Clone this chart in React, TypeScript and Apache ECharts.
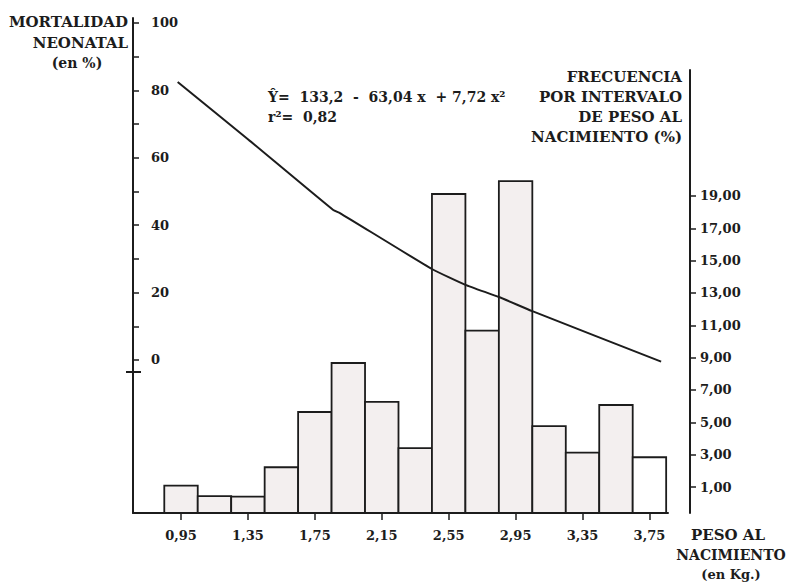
import React, { useEffect, useRef } from "react";
import * as echarts from "echarts";

// Birth-weight intervals (kg, bin centres) and frequency per interval (%)
const weightCenters = [0.95, 1.15, 1.35, 1.55, 1.75, 1.95, 2.15, 2.35, 2.55, 2.75, 2.95, 3.15, 3.35, 3.55, 3.75];
const frequencies = [1.08, 0.44, 0.41, 2.22, 5.64, 8.67, 6.26, 3.41, 19.12, 10.67, 19.92, 4.77, 3.12, 6.07, 2.84];
const binFilled = [true, true, true, true, true, true, true, true, true, true, true, true, true, true, false];
const binWidth = 0.2;

// Neonatal mortality curve (kg, %)
const curveWeight = [0.93, 1.35, 1.86, 1.9, 2.45, 2.65, 2.85, 3.05, 3.82];
const curveMortality = [82.5, 65.5, 44.5, 43.6, 27.0, 22.3, 18.7, 14.5, -0.5];

// Tick labels
const weightTicks = [0.95, 1.35, 1.75, 2.15, 2.55, 2.95, 3.35, 3.75];
const mortalityLabels = [0, 20, 40, 60, 80, 100];
const mortalityTicks = [0, 10, 20, 30, 40, 50, 60, 70, 80, 90, 100];
const frequencyTicks = [1, 3, 5, 7, 9, 11, 13, 15, 17, 19];

const FONT = '"DejaVu Serif", "Liberation Serif", serif';
const INK = "#1c1c1c";

function comma(v: number) {
  return v.toFixed(2).replace(".", ",");
}

export default function App() {
  const ref = useRef<HTMLDivElement>(null);

  useEffect(() => {
    if (!ref.current) return;
    const chart = echarts.init(ref.current, undefined, { renderer: "svg" });

    const txt = (text: string, x: number, y: number, align: string, size = 12, color = INK) => ({
      type: "text",
      x,
      y,
      style: {
        text,
        font: `bold ${size}px ${FONT}`,
        fill: color,
        textAlign: align,
        align,
        textVerticalAlign: "middle",
        verticalAlign: "middle",
      },
    });

    const option: any = {
      animation: false,
      backgroundColor: "#ffffff",
      grid: [
        { left: 133, right: 121, top: 18, bottom: 69 },
        { left: 133, right: 121, top: 70, bottom: 69 },
      ],
      xAxis: [
        {
          type: "value",
          gridIndex: 0,
          min: 0.663,
          max: 3.861,
          splitLine: { show: false },
          axisLine: { show: true, onZero: false, lineStyle: { color: INK, width: 2 } },
          axisTick: { show: true, customValues: weightTicks, length: 7, lineStyle: { color: INK, width: 1.5 } },
          axisLabel: {
            customValues: weightTicks,
            formatter: (v: number) => comma(v),
            margin: 16,
            fontFamily: FONT,
            fontWeight: "bold",
            fontSize: 13,
            color: INK,
          },
        },
        {
          type: "value",
          gridIndex: 1,
          min: 0.663,
          max: 3.861,
          show: false,
        },
      ],
      yAxis: [
        {
          type: "value",
          gridIndex: 0,
          position: "left",
          min: -45.4,
          max: 101.48,
          splitLine: { show: false },
          axisLine: { show: true, lineStyle: { color: INK, width: 2 } },
          axisTick: { show: true, inside: true, customValues: mortalityTicks, length: 6, lineStyle: { color: INK, width: 1.5 } },
          axisLabel: {
            inside: true,
            customValues: mortalityLabels,
            margin: 18,
            fontFamily: FONT,
            fontWeight: "bold",
            fontSize: 13,
            color: INK,
          },
        },
        {
          type: "value",
          gridIndex: 1,
          position: "right",
          offset: 22,
          min: -0.608,
          max: 26.79,
          splitLine: { show: false },
          axisLine: { show: true, lineStyle: { color: INK, width: 2 } },
          axisTick: { show: true, customValues: frequencyTicks, length: 6, lineStyle: { color: INK, width: 1.5 } },
          axisLabel: {
            customValues: frequencyTicks,
            formatter: (v: number) => comma(v),
            margin: 10,
            fontFamily: FONT,
            fontWeight: "bold",
            fontSize: 13,
            color: INK,
          },
        },
      ],
      series: [
        {
          type: "custom",
          xAxisIndex: 1,
          yAxisIndex: 1,
          z: 2,
          clip: false,
          data: weightCenters.map((w, i) => [w, frequencies[i], binFilled[i] ? 1 : 0]),
          renderItem: (params: any, api: any) => {
            const x = api.value(0);
            const y = api.value(1);
            const p0 = api.coord([x - binWidth / 2, y]);
            const p1 = api.coord([x + binWidth / 2, y]);
            const base = params.coordSys.y + params.coordSys.height;
            return {
              type: "rect",
              shape: { x: p0[0], y: p0[1], width: p1[0] - p0[0], height: base - p0[1] },
              style: {
                fill: api.value(2) ? "#f3efef" : "#ffffff",
                stroke: INK,
                lineWidth: 1.8,
              },
            };
          },
        },
        {
          type: "line",
          xAxisIndex: 0,
          yAxisIndex: 0,
          z: 5,
          symbol: "none",
          smooth: 0.15,
          lineStyle: { color: INK, width: 2 },
          data: curveWeight.map((w, i) => [w, curveMortality[i]]),
        },
      ],
      graphic: [
        txt("MORTALIDAD", 128, 22, "right", 15),
        txt("NEONATAL", 128, 43, "right", 15),
        txt("(en %)", 77, 63, "center", 14),
        txt("FRECUENCIA", 682, 77, "right", 15),
        txt("POR INTERVALO", 682, 97, "right", 15),
        txt("DE PESO AL", 682, 117, "right", 15),
        txt("NACIMIENTO (%)", 682, 137, "right", 15),
        txt("Ŷ=  133,2  -  63,04 x  + 7,72 x²", 268, 97, "left", 14),
        txt("r²=  0,82", 268, 117, "left", 14),
        txt("PESO AL", 728, 535, "center", 15),
        txt("NACIMIENTO", 731, 555, "center", 14),
        txt("(en Kg.)", 731, 574, "center", 13),
        {
          type: "line",
          shape: { x1: 126, y1: 372, x2: 141, y2: 372 },
          style: { stroke: INK, lineWidth: 2 },
        },
      ],
    };

    chart.setOption(option);
    return () => chart.dispose();
  }, []);

  return (
    <div
      ref={ref}
      style={{ position: "fixed", left: 0, top: 0, width: 789, height: 582, background: "#fff" }}
    />
  );
}
